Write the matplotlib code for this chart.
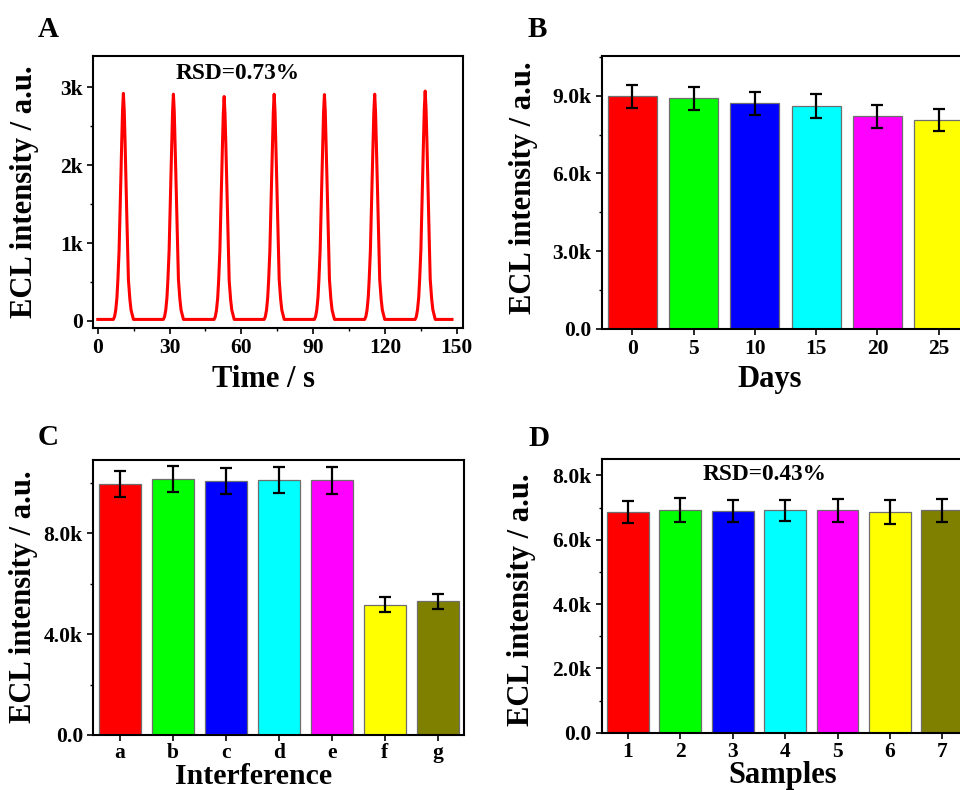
import matplotlib
matplotlib.use("Agg")
import matplotlib.pyplot as plt
from matplotlib.ticker import MultipleLocator

plt.rcParams['font.family'] = ['Liberation Serif', 'DejaVu Serif']
plt.rcParams['font.weight'] = 'bold'

# ---------------- data ----------------
# Panel A: ECL-time trace
time_s = [0.0,
          6.5, 7.0, 7.5, 8.0, 8.4, 8.9, 9.3, 9.7, 10.0, 10.35, 10.7, 11.05, 11.4, 11.7, 12.1, 12.5, 12.8, 13.4, 13.9, 14.9,
          27.4, 27.9, 28.4, 28.9, 29.3, 29.8, 30.2, 30.6, 30.9, 31.25, 31.6, 31.95, 32.3, 32.6, 33.0, 33.4, 33.7, 34.3, 34.8, 35.8,
          48.6, 49.1, 49.6, 50.1, 50.5, 51.0, 51.4, 51.8, 52.1, 52.45, 52.8, 53.15, 53.5, 53.8, 54.2, 54.6, 54.9, 55.5, 56.0, 57.0,
          69.5, 70.0, 70.5, 71.0, 71.4, 71.9, 72.3, 72.7, 73.0, 73.35, 73.7, 74.05, 74.4, 74.7, 75.1, 75.5, 75.8, 76.4, 76.9, 77.9,
          90.5, 91.0, 91.5, 92.0, 92.4, 92.9, 93.3, 93.7, 94.0, 94.35, 94.7, 95.05, 95.4, 95.7, 96.1, 96.5, 96.8, 97.4, 97.9, 98.9,
          111.5, 112.0, 112.5, 113.0, 113.4, 113.9, 114.3, 114.7, 115.0, 115.35, 115.7, 116.05, 116.4, 116.7, 117.1, 117.5, 117.8, 118.4, 118.9, 119.9,
          132.6, 133.1, 133.6, 134.1, 134.5, 135.0, 135.4, 135.8, 136.1, 136.45, 136.8, 137.15, 137.5, 137.8, 138.2, 138.6, 138.9, 139.5, 140.0, 141.0,
          148.0]
ecl_a = [20,
         20, 55, 140, 300, 530, 900, 1380, 1900, 2300, 2700, 2920, 2700, 2300, 1900, 1380, 900, 530, 280, 140, 20,
         20, 55, 140, 300, 530, 900, 1380, 1900, 2290, 2690, 2910, 2690, 2290, 1900, 1380, 900, 530, 280, 140, 20,
         20, 55, 140, 295, 520, 890, 1360, 1880, 2270, 2660, 2880, 2660, 2270, 1880, 1360, 890, 520, 275, 140, 20,
         20, 55, 140, 300, 530, 900, 1380, 1900, 2290, 2690, 2910, 2690, 2290, 1900, 1380, 900, 530, 280, 140, 20,
         20, 55, 140, 300, 530, 900, 1380, 1900, 2290, 2690, 2905, 2690, 2290, 1900, 1380, 900, 530, 280, 140, 20,
         20, 55, 140, 300, 530, 900, 1380, 1900, 2290, 2690, 2910, 2690, 2290, 1900, 1380, 900, 530, 280, 140, 20,
         20, 55, 145, 305, 540, 910, 1400, 1930, 2330, 2730, 2950, 2730, 2330, 1930, 1400, 910, 540, 285, 145, 20,
         20]
rsd_a = "RSD=0.73%"

# Panel B: stability over days
days = ["0", "5", "10", "15", "20", "25"]
ecl_b = [8970, 8900, 8700, 8600, 8200, 8060]
err_b = [450, 450, 450, 450, 430, 410]

# Panel C: interference
interf = ["a", "b", "c", "d", "e", "f", "g"]
ecl_c = [9960, 10150, 10080, 10120, 10100, 5170, 5300]
err_c = [500, 520, 500, 530, 520, 290, 300]

# Panel D: samples
samples = ["1", "2", "3", "4", "5", "6", "7"]
ecl_d = [6860, 6930, 6880, 6910, 6910, 6860, 6910]
err_d = [340, 370, 340, 340, 370, 360, 370]
rsd_d = "RSD=0.43%"

bar_colors = ["#FF0000", "#00FF00", "#0000FF", "#00FFFF", "#FF00FF", "#FFFF00", "#808000"]

# tick labels
a_yticks = [0, 1000, 2000, 3000]
a_yticklabels = ["0", "1k", "2k", "3k"]
a_xticks = [0, 30, 60, 90, 120, 150]
b_yticks = [0, 3000, 6000, 9000]
b_yticklabels = ["0.0", "3.0k", "6.0k", "9.0k"]
c_yticks = [0, 4000, 8000]
c_yticklabels = ["0.0", "4.0k", "8.0k"]
d_yticks = [0, 2000, 4000, 6000, 8000]
d_yticklabels = ["0.0", "2.0k", "4.0k", "6.0k", "8.0k"]

# ---------------- figure ----------------
W, H = 960, 790
fig = plt.figure(figsize=(W / 100, H / 100), dpi=100)


def px_axes(l, t, r, b):
    return fig.add_axes([l / W, 1 - b / H, (r - l) / W, (b - t) / H])


TICK_FS = 15.5
LABEL_FS = 22
LETTER_FS = 21
RSD_FS = 16.8


def style(ax):
    for s in ax.spines.values():
        s.set_linewidth(1.5)
    ax.tick_params(which='major', direction='out', length=4.5, width=1.2,
                   labelsize=TICK_FS, pad=3, top=False, right=False)
    ax.tick_params(which='minor', direction='out', length=2.5, width=1.0,
                   top=False, right=False)
    for lab in ax.get_xticklabels() + ax.get_yticklabels():
        lab.set_fontweight('bold')


# ---- A ----
axA = px_axes(93, 56, 463, 328)
axA.plot(time_s, ecl_a, color='#FF0000', lw=2.2)
axA.set_xlim(-2, 152.6)
axA.set_ylim(-90, 3400)
axA.set_xticks(a_xticks)
axA.xaxis.set_minor_locator(MultipleLocator(15))
axA.set_yticks(a_yticks)
axA.set_yticklabels(a_yticklabels)
axA.yaxis.set_minor_locator(MultipleLocator(500))
style(axA)
axA.text(58.6, 3170, rsd_a, ha='center', va='center', fontsize=RSD_FS, fontweight='bold')


def bar_panel(ax, labels, vals, errs, ylim, yticks, yticklabels, minor, xlim):
    x = list(range(len(vals)))
    ax.bar(x, vals, width=0.8, color=bar_colors[:len(vals)], edgecolor='#6E6E6E',
           linewidth=0.9, zorder=2)
    ax.errorbar(x, vals, yerr=errs, fmt='none', ecolor='black', elinewidth=1.6,
                capsize=4, capthick=1.6, zorder=3)
    ax.set_xlim(*xlim)
    ax.set_ylim(*ylim)
    ax.set_xticks(x)
    ax.set_xticklabels(labels)
    ax.set_yticks(yticks)
    ax.set_yticklabels(yticklabels)
    ax.yaxis.set_minor_locator(MultipleLocator(minor))
    style(ax)


# ---- B ----
axB = px_axes(601.6, 56, 601.6 + 7 * 61.3, 329)
bar_panel(axB, days, ecl_b, err_b, (0, 10530), b_yticks, b_yticklabels, 1500, (-0.5, 6.5))

# ---- C ----
axC = px_axes(93.3, 460, 464.3, 735)
bar_panel(axC, interf, ecl_c, err_c, (0, 10910), c_yticks, c_yticklabels, 2000, (-0.5, 6.5))
axC.tick_params(axis='x', which='major', pad=1.5)

# ---- D ----
axD = px_axes(601.7, 459, 601.7 + 7 * 52.4, 732.7)
bar_panel(axD, samples, ecl_d, err_d, (0, 8510), d_yticks, d_yticklabels, 1000, (-0.5, 6.5))
axD.tick_params(axis='x', which='major', pad=2)
axD.text(2.61, 8040, rsd_d, ha='center', va='center', fontsize=RSD_FS, fontweight='bold')

# ---- labels ----
ylab = "ECL intensity / a.u."


def ftext(x, y, s, **kw):
    fig.text(x / W, 1 - y / H, s, fontweight='bold', **kw)


ftext(25, 192, ylab, rotation=90, ha='center', va='center', fontsize=LABEL_FS)
ftext(524, 188, ylab, rotation=90, ha='center', va='center', fontsize=LABEL_FS)
ftext(24, 597, ylab, rotation=90, ha='center', va='center', fontsize=LABEL_FS)
ftext(521, 600, ylab, rotation=90, ha='center', va='center', fontsize=LABEL_FS)

ftext(263, 387, "Time / s", ha='center', va='baseline', fontsize=LABEL_FS)
ftext(770, 387, "Days", ha='center', va='baseline', fontsize=LABEL_FS)
ftext(254, 784.5, "Interference", ha='center', va='baseline', fontsize=21.5)
ftext(783, 783, "Samples", ha='center', va='baseline', fontsize=LABEL_FS)

ftext(38, 37, "A", ha='left', va='baseline', fontsize=LETTER_FS)
ftext(528, 37, "B", ha='left', va='baseline', fontsize=LETTER_FS)
ftext(38, 445, "C", ha='left', va='baseline', fontsize=LETTER_FS)
ftext(528, 446, "D", ha='left', va='baseline', fontsize=LETTER_FS)

fig.savefig("out.png", dpi=100)
